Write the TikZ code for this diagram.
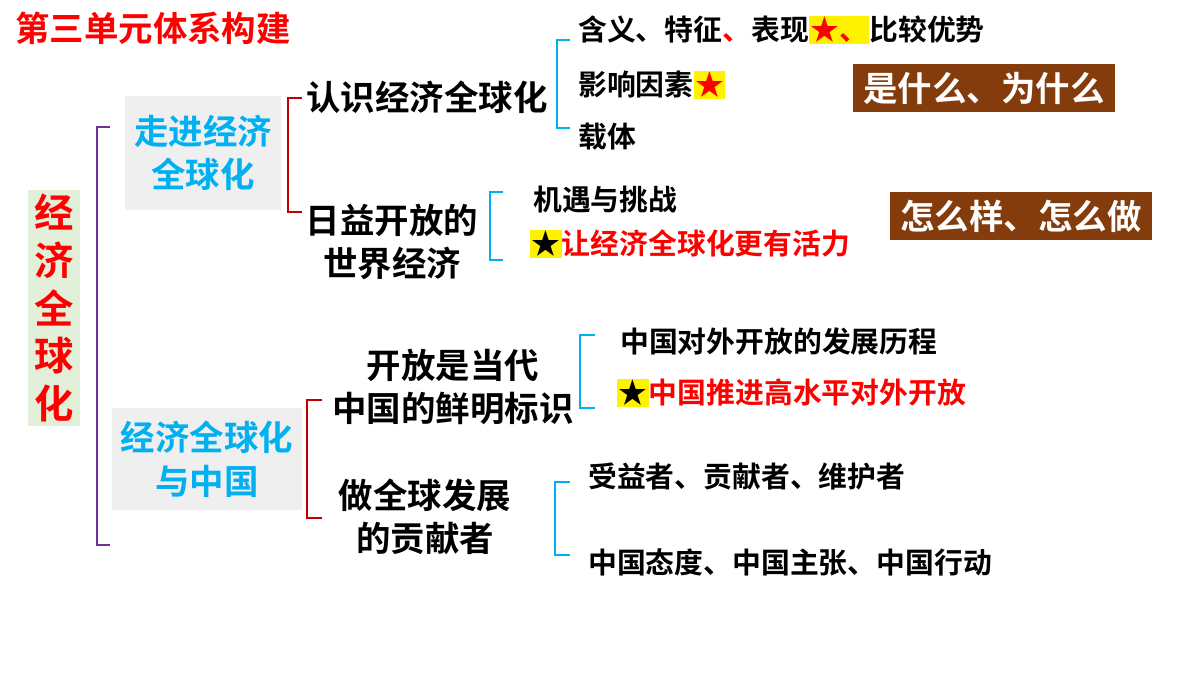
\documentclass[tikz,border=0pt]{standalone}
\usepackage{fontspec}
\usepackage{xcolor}
\setmainfont{Noto Sans CJK SC}[BoldFont={Noto Sans CJK SC Bold}]
\usetikzlibrary{positioning}
\definecolor{hred}{HTML}{FF0000}
\definecolor{dred}{HTML}{C00000}
\definecolor{hblue}{HTML}{00B0F0}
\definecolor{hpurple}{HTML}{7030A0}
\definecolor{hbrown}{HTML}{843C0C}
\definecolor{hgreen}{HTML}{E2EFD9}
\definecolor{hgray}{HTML}{EFEFEF}
\setlength{\fboxsep}{1pt}
\tikzset{
	mid/.style={font=\bfseries\fontsize{24.5}{31}\selectfont, align=center, inner sep=0pt},
	leaf/.style={font=\bfseries\fontsize{20.5}{24}\selectfont, anchor=west, inner sep=0pt},
	tagbox/.style={fill=hbrown, text=white, font=\bfseries\fontsize{24.5}{28}\selectfont, minimum width=6.55cm, minimum height=1.2cm},
	brk/.style={line width=1.5pt}
}
\newcommand{\hstar}[1]{\colorbox{yellow}{\textcolor{hred}{#1}}}
\begin{document}
\begin{tikzpicture}[x=0.025cm, y=-0.025cm]
	\useasboundingbox (0,0) rectangle (1200,675);

	%% Title
	\node[anchor=west, text=hred, font=\bfseries\fontsize{24.5}{28}\selectfont, inner sep=0pt] (title) at (15,28) {第三单元体系构建};

	%% Root
	\node[fill=hgreen, minimum width=1.3cm, minimum height=5.9cm, inner sep=0pt] (root) at (54,308) {};
	\node[text=hred, font=\bfseries\fontsize{28}{34}\selectfont, align=center] (rootText) at (root) {经\\济\\全\\球\\化};
	\draw[brk, hpurple] (110,127) -- (97,127) -- (97,545) -- (110,545);

	%% Branches
	\node[fill=hgray, minimum width=3.9cm, minimum height=2.85cm, text=hblue, mid] (b1) at (203,153) {走进经济\\全球化};
	\node[fill=hgray, minimum width=4.75cm, minimum height=2.55cm, text=hblue, mid] (b2) at (207,459) {经济全球化\\与中国};
	\draw[brk, dred] (302,98) -- (288,98) -- (288,212) -- (302,212);
	\draw[brk, dred] (322,400) -- (307,400) -- (307,518) -- (322,518);

	\node[mid, anchor=west] (c1) at (306,97) {认识经济全球化};
	\node[mid] (c2) at (392,242) {日益开放的\\世界经济};
	\node[mid] (c3) at (453,387) {开放是当代\\中国的鲜明标识};
	\node[mid] (c4) at (425,517) {做全球发展\\的贡献者};

	%% Leaves
	\draw[brk, hblue] (570,40) -- (557,40) -- (557,128) -- (570,128);
	\node[leaf] (l1) at (578,30) {含义、特征\textcolor{hred}{、}表现\hstar{★、}比较优势};
	\node[leaf] (l2) at (578,85) {影响因素\hstar{★}};
	\node[leaf] (l3) at (578,137) {载体};

	\draw[brk, hblue] (503,192) -- (490,192) -- (490,260) -- (503,260);
	\node[leaf] (l4) at (533,200) {机遇与挑战};
	\node[leaf, text=hred] (l5) at (530,244) {\colorbox{yellow}{\textcolor{black}{★}}让经济全球化更有活力};

	\draw[brk, hblue] (595,335) -- (580,335) -- (580,408) -- (595,408);
	\node[leaf] (l6) at (620,342) {中国对外开放的发展历程};
	\node[leaf, text=hred] (l7) at (617,393) {\colorbox{yellow}{\textcolor{black}{★}}中国推进高水平对外开放};

	\draw[brk, hblue] (570,482) -- (555,482) -- (555,555) -- (570,555);
	\node[leaf] (l8) at (588,477) {受益者、贡献者、维护者};
	\node[leaf] (l9) at (588,562) {中国态度、中国主张、中国行动};

	%% Tags
	\node[tagbox] (t1) at (984,88) {是什么、为什么};
	\node[tagbox] (t2) at (1021,216) {怎么样、怎么做};
\end{tikzpicture}
\end{document}
